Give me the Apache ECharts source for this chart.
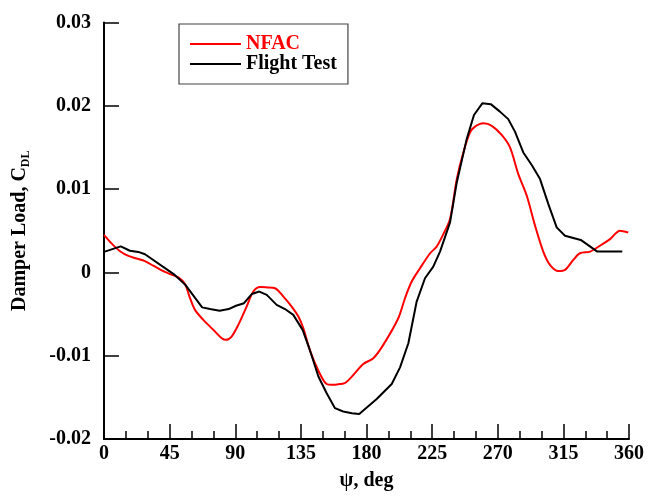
<!DOCTYPE html>
<html>
<head>
<meta charset="utf-8">
<script src="https://cdn.jsdelivr.net/npm/echarts@6/dist/echarts.min.js"></script>
<style>html,body{margin:0;padding:0;background:#fff}#c{width:659px;height:496px}</style>
</head>
<body>
<div id="c"></div>
<script>
var xTicks = [0, 45, 90, 135, 180, 225, 270, 315, 360];
var yTicks = [-0.02, -0.01, 0, 0.01, 0.02, 0.03];

var nfacDeg = [0,5.3,11,16.7,22.4,28.1,33.8,39.6,45.3,51,55.5,59,62.4,68.1,75,80.7,83.7,87.5,92.1,97.8,102.4,107,111.6,117.3,123,128.7,133.3,136.7,141.3,147,152.7,157.2,161.8,165,169.5,177.8,184.7,191.5,201.8,206.4,211,216.7,223.6,228.1,232.7,237.3,241.9,246.4,251,254.4,260.1,265.9,272.7,278.4,284.1,289.9,295.6,301.2,305.8,311.5,316.1,321.8,326.4,333.3,340.1,347,353.8,359.5];
var nfacVal = [0.0045,0.00345,0.00254,0.00198,0.00167,0.00135,0.0008,0.00024,-0.0002,-0.0006,-0.0014,-0.0031,-0.0045,-0.0057,-0.0069,-0.0079,-0.0081,-0.0077,-0.0063,-0.0041,-0.0023,-0.00175,-0.0018,-0.0019,-0.0029,-0.0041,-0.0053,-0.0067,-0.0094,-0.0118,-0.0134,-0.0135,-0.0134,-0.0133,-0.0126,-0.011,-0.0103,-0.0087,-0.0055,-0.0031,-0.0011,0.0005,0.0023,0.0031,0.0046,0.0064,0.0112,0.0144,0.0168,0.0175,0.0179,0.0176,0.0165,0.015,0.0118,0.0092,0.0056,0.0025,0.0009,0.00016,0.0003,0.0015,0.0023,0.0025,0.0032,0.004,0.005,0.0048];

var flightDeg = [0,11.5,17.8,23.5,28.1,48.5,55.8,67.3,72.7,79.3,85.5,90.5,96,101.3,106.5,111.6,118.4,124.1,129.8,136.2,141.3,147,152.7,158.4,164,170,175,187,197.3,203,208.7,214.4,220.1,225.8,230.4,237.3,241.9,248.7,253.7,259.4,265.2,271.5,277.2,281.8,287.5,293.3,299,304.7,310.4,316.1,326.9,338.3,344.7,355.4];
var flightVal = [0.00246,0.00313,0.0026,0.00246,0.00218,-0.0003,-0.0015,-0.0042,-0.0044,-0.0046,-0.0044,-0.004,-0.0037,-0.0026,-0.0023,-0.0027,-0.0039,-0.0044,-0.0051,-0.0069,-0.0094,-0.0125,-0.0145,-0.0163,-0.0167,-0.0169,-0.017,-0.0152,-0.0134,-0.0114,-0.0085,-0.0035,-0.0007,0.0007,0.0025,0.006,0.0108,0.016,0.0189,0.0203,0.0202,0.0193,0.0184,0.0169,0.0144,0.0129,0.0112,0.0082,0.0054,0.0044,0.0039,0.0025,0.0025,0.0025];

function zip(a, b) { return a.map(function (v, i) { return [v, b[i]]; }); }

var FONT = 'Liberation Serif';
var chart = echarts.init(document.getElementById('c'), null, {renderer: 'canvas'});
chart.setOption({
  animation: false,
  backgroundColor: '#fff',
  grid: {left: 104, right: 30, top: 22.5, bottom: 54, containLabel: false},
  legend: {
    orient: 'vertical',
    left: 179, top: 24,
    padding: [10, 11, 10, 11],
    icon: 'rect',
    itemWidth: 51, itemHeight: 2, itemGap: 0,
    borderColor: '#444', borderWidth: 1.2,
    textStyle: {fontFamily: FONT, fontWeight: 'bold', fontSize: 20, lineHeight: 20, color: '#000'},
    data: [
      {name: 'NFAC', textStyle: {color: '#ff0000'}},
      {name: 'Flight Test', textStyle: {color: '#000'}}
    ]
  },
  xAxis: {
    type: 'value', min: xTicks[0], max: xTicks[xTicks.length - 1], interval: 45,
    name: 'ψ, deg', nameLocation: 'middle', nameGap: 32,
    nameTextStyle: {fontFamily: FONT, fontWeight: 'bold', fontSize: 20, color: '#000'},
    axisLine: {onZero: false, lineStyle: {color: '#000', width: 2}},
    axisTick: {inside: true, length: 15, lineStyle: {color: '#000', width: 1.5}},
    minorTick: {show: true, splitNumber: 3, length: 8, lineStyle: {color: '#000', width: 1.5}},
    axisLabel: {margin: 5, fontFamily: FONT, fontWeight: 'bold', fontSize: 20, color: '#000'},
    splitLine: {show: false}
  },
  yAxis: {
    type: 'value', min: yTicks[0], max: yTicks[yTicks.length - 1], interval: 0.01,
    name: 'Damper Load, C{sub|DL}', nameLocation: 'middle', nameGap: 72, nameRotate: 90,
    nameTextStyle: {
      fontFamily: FONT, fontWeight: 'bold', fontSize: 20, color: '#000',
      rich: {sub: {fontFamily: FONT, fontWeight: 'bold', fontSize: 12, color: '#000', padding: [12, 0, 0, 0]}}
    },
    axisLine: {onZero: false, lineStyle: {color: '#000', width: 2}},
    axisTick: {inside: true, length: 15, lineStyle: {color: '#000', width: 1.5}},
    axisLabel: {
      margin: 13, fontFamily: FONT, fontWeight: 'bold', fontSize: 20, color: '#000',
      formatter: function (v) { return Math.abs(v) < 1e-9 ? '0' : v.toFixed(2); }
    },
    splitLine: {show: false}
  },
  series: [
    {name: 'NFAC', type: 'line', data: zip(nfacDeg, nfacVal), symbol: 'none', smooth: 0.3,
     lineStyle: {color: '#ff0000', width: 2}, itemStyle: {color: '#ff0000'}},
    {name: 'Flight Test', type: 'line', data: zip(flightDeg, flightVal), symbol: 'none',
     lineStyle: {color: '#000', width: 2}, itemStyle: {color: '#000'}}
  ]
});
</script>
</body>
</html>
